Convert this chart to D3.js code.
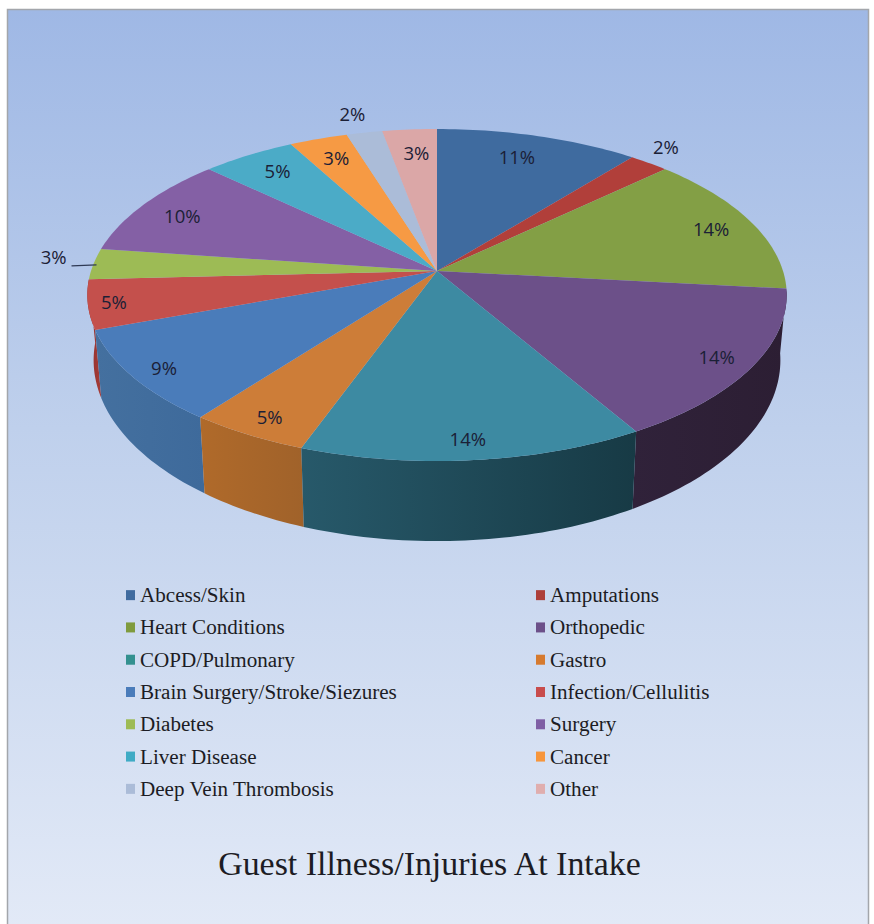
<!DOCTYPE html>
<html>
<head>
  <meta charset="utf-8">
  <title>Guest Illness/Injuries At Intake</title>
  <style>
    html, body { margin: 0; padding: 0; background: #fff; }
    svg { display: block; }
    text { font-family: "Liberation Serif", serif; fill: #1c1c24; }
    .pct { font-family: "Open Sans", "Noto Sans", sans-serif; font-size: 18.5px; text-anchor: middle; fill: #1b2036; }
  </style>
</head>
<body>
  <script src="https://d3js.org/d3.v7.min.js"></script>
  <script>
    // categories, clockwise from 12 o'clock
    var categories = ["Abcess/Skin", "Amputations", "Heart Conditions", "Orthopedic", "COPD/Pulmonary", "Gastro",
      "Brain Surgery/Stroke/Siezures", "Infection/Cellulitis", "Diabetes", "Surgery", "Liver Disease", "Cancer",
      "Deep Vein Thrombosis", "Other"];
    // slice sizes (labels below are what the chart prints)
    var values = [10.8, 2.1, 13.8, 14.9, 13.9, 4.85, 9.05, 4.8, 3.0, 9.9, 5.0, 3.1, 1.9, 2.9];
    var labels = ["11%", "2%", "14%", "14%", "14%", "5%", "9%", "5%", "3%", "10%", "5%", "3%", "2%", "3%"];
    var colors = ["#3f6b9f", "#b13f3a", "#839f45", "#6c5089", "#3d8aa2", "#cd7d38",
      "#4a7cba", "#c4504c", "#9dbb55", "#8460a5", "#4babc7", "#f69a44", "#abbcd8", "#dba7a7"];
    var legendColors = ["#3f6b9f", "#ad3f3a", "#7f9b3e", "#6c5089", "#33908f", "#d67a2e",
      "#4a7cba", "#c84c4c", "#9dbb55", "#7f5fa5", "#3fabc5", "#f7963c", "#abbcd8", "#e0aeae"];
    var wallLeft = { 3: "#30223a", 4: "#27596a", 5: "#b06a2a", 6: "#44709f", 7: "#8c2f2c" };
    var wallRight = { 3: "#2c1e33", 4: "#173a45", 5: "#a0622a", 6: "#3e6a9b", 7: "#a83c38" };
    var title = "Guest Illness/Injuries At Intake";

    var width = 874, height = 924;
    var cx = 437, cy = 271;      // where the slices meet
    var a = 346, b = 162.5, k = 0.1447; // perspective of the tilted disc
    var wallDrop = 63, wallScaleX = 0.982, wallScaleY = 1.09;

    // circle angle -> picture position
    function topPoint(t) {
      var u = Math.sin(t), v = -Math.cos(t), w = 1 - k * v;
      return [a * u / w, b * v / w];
    }
    function bottomPoint(t) {
      var p = topPoint(t);
      return [p[0] * wallScaleX, p[1] * wallScaleY + wallDrop];
    }
    function rim(fn, t0, t1) {
      var n = Math.max(2, Math.ceil((t1 - t0) / 0.02));
      return d3.range(n + 1).map(function (i) { return fn(t0 + (t1 - t0) * i / n); });
    }

    var svg = d3.select("body").append("svg").attr("width", width).attr("height", height);
    var defs = svg.append("defs");

    var bg = defs.append("linearGradient").attr("id", "bg").attr("x1", 0).attr("y1", 0).attr("x2", 0).attr("y2", 1);
    bg.append("stop").attr("offset", "0%").attr("stop-color", "#9fb8e5");
    bg.append("stop").attr("offset", "45%").attr("stop-color", "#bfd0ec");
    bg.append("stop").attr("offset", "100%").attr("stop-color", "#e3eaf7");

    svg.append("rect").attr("x", 7.5).attr("y", 9.5).attr("width", 861).attr("height", 930)
      .attr("fill", "url(#bg)").attr("stroke", "#a3a6ab").attr("stroke-width", 1.5);

    var arcs = d3.pie().sort(null).value(function (d) { return d; })(values);
    var line = d3.line();
    var pie = svg.append("g").attr("transform", "translate(" + cx + "," + cy + ")");

    // side walls, far ones first
    var front = arcs.map(function (d, i) { return { d: d, i: i }; })
      .filter(function (o) { return wallLeft[o.i]; })
      .sort(function (p, q) {
        return d3.max(rim(topPoint, p.d.startAngle, p.d.endAngle), function (c) { return c[1]; })
          - d3.max(rim(topPoint, q.d.startAngle, q.d.endAngle), function (c) { return c[1]; });
      });
    front.forEach(function (o) {
      var top = rim(topPoint, o.d.startAngle, o.d.endAngle);
      var bot = rim(bottomPoint, o.d.startAngle, o.d.endAngle).reverse();
      var xs = d3.extent(top.concat(bot), function (c) { return c[0]; });
      var g = defs.append("linearGradient").attr("id", "wall" + o.i).attr("gradientUnits", "userSpaceOnUse")
        .attr("x1", xs[0]).attr("x2", xs[1]).attr("y1", 0).attr("y2", 0);
      g.append("stop").attr("offset", "0%").attr("stop-color", wallLeft[o.i]);
      g.append("stop").attr("offset", "100%").attr("stop-color", wallRight[o.i]);
      pie.append("path").attr("d", line(top.concat(bot)) + "Z").attr("fill", "url(#wall" + o.i + ")");
    });

    // top face
    pie.selectAll("path.slice").data(arcs).enter().append("path")
      .attr("class", "slice")
      .attr("d", function (d) { return line([[0, 0]].concat(rim(topPoint, d.startAngle, d.endAngle))) + "Z"; })
      .attr("fill", function (d, i) { return colors[i]; });

    // percent labels sit at a fraction of the rim, then a hand nudge per label
    var labelReach = [0.65, 1.08, 0.85, 0.83, 0.92, 0.9, 0.88, 0.96, 1.09, 0.78, 0.93, 0.9, 1.11, 0.86];
    var labelNudgeX = [14, 0, 8, 18, -3, 3, -5, 12, -9, -26, 16, 6, -4, 3];
    var labelNudgeY = [-25, -6, 1, 7, -5, 0, 5, 0, -5, -2, 9, 7, -2, 5];
    pie.selectAll("text.pct").data(arcs).enter().append("text")
      .attr("class", "pct")
      .attr("transform", function (d, i) {
        var p = topPoint((d.startAngle + d.endAngle) / 2);
        return "translate(" + (p[0] * labelReach[i] + labelNudgeX[i]) + "," + (p[1] * labelReach[i] + 6 + labelNudgeY[i]) + ")";
      })
      .text(function (d, i) { return labels[i]; });

    // leader of the Diabetes label
    var leaderEnd = topPoint((arcs[8].startAngle + arcs[8].endAngle) / 2);
    pie.append("path")
      .attr("d", line([[leaderEnd[0] - 22, leaderEnd[1] + 2], [leaderEnd[0] + 3, leaderEnd[1] + 1]]))
      .attr("stroke", "#2f3a55").attr("stroke-width", 1.4).attr("fill", "none");

    // legend: two columns, seven rows
    var row = d3.scaleBand().domain(d3.range(7)).range([580, 806]);
    var col = d3.scaleOrdinal().domain([0, 1]).range([125, 535]);
    var legend = svg.selectAll("g.legend").data(categories).enter().append("g")
      .attr("class", "legend")
      .attr("transform", function (d, i) {
        return "translate(" + col(i % 2) + "," + (row(Math.floor(i / 2)) + row.bandwidth() / 2) + ")";
      });
    legend.append("rect").attr("x", 1).attr("y", -6).attr("width", 9).attr("height", 10)
      .attr("fill", function (d, i) { return legendColors[i]; });
    legend.append("text").attr("x", 15).attr("y", 6).attr("font-size", 21.1)
      .text(function (d) { return d; });

    svg.append("text").attr("x", 429.5).attr("y", 875).attr("text-anchor", "middle").attr("font-size", 33.9)
      .text(title);
  </script>
</body>
</html>
